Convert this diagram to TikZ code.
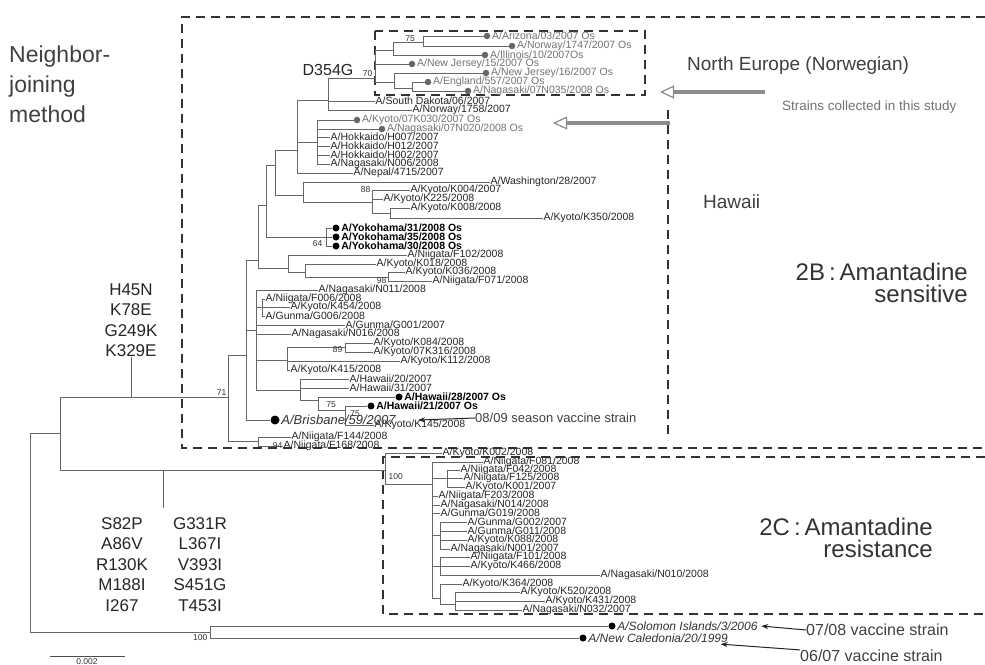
\documentclass[tikz,border=0pt]{standalone}
\usepackage{fontspec}
\setmainfont{Liberation Sans}
\usetikzlibrary{arrows.meta}
\tikzset{
 br/.style={draw=black!60, line width=0.7pt},
 lf/.style={anchor=west, inner sep=0.5pt, font=\fontsize{10.5}{11}\selectfont, text=black!85},
 os/.style={font=\fontsize{10.5}{11}\selectfont\bfseries, text=black},
 ne/.style={text=black!55},
 bri/.style={font=\fontsize{13}{14}\selectfont\itshape, text=black!80},
 vac/.style={font=\fontsize{12}{13}\selectfont\itshape, text=black!80},
 dotc/.style={circle, fill=black, inner sep=0pt, minimum size=7pt},
 bs/.style={font=\fontsize{8.5}{9}\selectfont, inner sep=0.5pt, text=black!80},
 dbox/.style={draw=black!80, line width=1.8pt, dash pattern=on 9pt off 6pt},
 big/.style={font=\fontsize{24}{22}\selectfont, text=black!80, inner sep=0},
 mut/.style={font=\fontsize{17}{20.5}\selectfont, align=center, inner sep=0, text=black!85},
 side/.style={inner sep=0, text=black!75},
 fatarrow/.style={draw=black!45, line width=4pt, -{Triangle[open,length=14pt,width=13pt,line width=1.2pt]}},
 thinarrow/.style={draw=black!85, line width=1pt, -{Stealth[length=7pt,width=5pt]}},
}
\newcommand\Lf[6][]{\node[lf,#1] (#2) at (#4,#5) {#6}; \draw[br] (#3) |- (#2.west);}
\newcommand\Df[6][]{\node[dotc] (#2d) at (#4,#5) {}; \node[lf,#1] (#2) at ([xshift=1pt]#2d.east) {#6}; \draw[br] (#3) |- (#2d.west);}
\newcommand\Gf[6][]{\node[dotc, fill=black!60, minimum size=6.5pt] (#2d) at (#4,#5) {}; \node[lf,#1] (#2) at ([xshift=1pt]#2d.east) {#6}; \draw[br] (#3) |- (#2d.west);}
\begin{document}
\begin{tikzpicture}[x=1pt,y=-1pt]
\useasboundingbox (0,0) rectangle (985,664);
\fill[white] (0,0) rectangle (985,664);

% internal nodes
\coordinate (R) at (30,540);
\coordinate (A) at (60,433);
\coordinate (O) at (210,632);
\coordinate (B) at (228,397);
\coordinate (D) at (258,441);
\coordinate (C) at (246,355);
\coordinate (E) at (258,260);
\coordinate (F) at (256,330);
\coordinate (M1) at (266,205);
\coordinate (UP) at (275,165);
\coordinate (X) at (297,150);
\coordinate (Y) at (328,100);
\coordinate (NE) at (375,78);
\coordinate (NA) at (393,50);
\coordinate (N75) at (423,42);
\coordinate (NB) at (394,82);
\coordinate (NC) at (412,88);
\coordinate (K) at (317,142);
\coordinate (W) at (303,195);
\coordinate (N88) at (372,202);
\coordinate (NK8) at (390,213);
\coordinate (YOK) at (326,237);
\coordinate (NI) at (288,268);
\coordinate (NI2) at (305,272);
\coordinate (NI3) at (388,277);
\coordinate (GG) at (262,307);
\coordinate (N89) at (287,360);
\coordinate (N89b) at (345,347);
\coordinate (HW) at (300,390);
\coordinate (H75) at (318,400);
\coordinate (H75b) at (345,410);
\coordinate (c1) at (385,470);
\coordinate (c2) at (432,484);
\coordinate (c3) at (447,478);
\coordinate (c4) at (440,535);
\coordinate (c5) at (440,566);
\coordinate (c6) at (440,598);
\coordinate (c7) at (455,604);

% dashed frames
\draw[dbox] (985,17) -- (182,17) -- (182,448) -- (985,448);
\draw[dbox] (985,457) -- (383,457) -- (383,614) -- (985,614);
\draw[dbox] (375,31) rectangle (645,95);
\draw[dbox] (668,110) -- (668,440);

% internal branches
\draw[br] (R) |- (A); \draw[br] (R) |- (O);
\draw[br] (A) |- (B); \draw[br] (A) |- (c1);
\draw[br] (B) |- (C); \draw[br] (B) |- (D);
\draw[br] (C) |- (E); \draw[br] (C) |- (F);
\draw[br] (E) |- (M1); \draw[br] (E) |- (NI);
\draw[br] (M1) |- (UP); \draw[br] (M1) |- (YOK);
\draw[br] (UP) |- (X); \draw[br] (UP) |- (W);
\draw[br] (X) |- (Y); \draw[br] (X) |- (K);
\draw[br] (Y) |- (NE);
\draw[br] (NE) |- (NA); \draw[br] (NE) |- (NB);
\draw[br] (NA) |- (N75);
\draw[br] (NB) |- (NC);
\draw[br] (W) |- (N88); \draw[br] (N88) |- (NK8);
\draw[br] (NI) |- (NI2); \draw[br] (NI2) |- (NI3);
\draw[br] (F) |- (GG); \draw[br] (F) |- (N89); \draw[br] (F) |- (HW);
\draw[br] (N89) |- (N89b);
\draw[br] (HW) |- (H75); \draw[br] (H75) |- (H75b);
\draw[br] (c1) |- (c2); \draw[br] (c2) |- (c3); \draw[br] (c2) |- (c4);
\draw[br] (c2) |- (c5); \draw[br] (c2) |- (c6); \draw[br] (c6) |- (c7);

% leaves 2B
\Gf[ne]{Az}{N75}{487}{36}{A/Arizona/03/2007 Os}
\Gf[ne]{Nw47}{N75}{512}{46}{A/Norway/1747/2007 Os}
\Gf[ne]{Il}{NA}{485}{55}{A/Illinois/10/2007Os}
\Gf[ne]{NJa}{NE}{412}{64}{A/New Jersey/15/2007 Os}
\Gf[ne]{NJb}{NB}{486}{73}{A/New Jersey/16/2007 Os}
\Gf[ne]{En}{NC}{428}{82}{A/England/557/2007 Os}
\Gf[ne]{Ng35}{NC}{468}{91}{A/Nagasaki/07N035/2008 Os}
\Lf{SD}{Y}{375}{101}{A/South Dakota/06/2007}
\Lf{Nw58}{Y}{412}{110}{A/Norway/1758/2007}
\Gf[ne]{Ky30}{K}{357}{120}{A/Kyoto/07K030/2007 Os}
\Gf[ne]{Ng20}{K}{382}{129}{A/Nagasaki/07N020/2008 Os}
\Lf{Hk7}{K}{330}{137}{A/Hokkaido/H007/2007}
\Lf{Hk12}{K}{330}{146}{A/Hokkaido/H012/2007}
\Lf{Hk2}{K}{330}{155}{A/Hokkaido/H002/2007}
\Lf{Ng6}{K}{330}{164}{A/Nagasaki/N006/2008}
\Lf{Np}{X}{353}{173}{A/Nepal/4715/2007}
\Lf{Wa}{W}{490}{182}{A/Washington/28/2007}
\Lf{K4}{N88}{410}{190}{A/Kyoto/K004/2007}
\Lf{K225}{N88}{383}{199}{A/Kyoto/K225/2008}
\Lf{K8}{NK8}{410}{208}{A/Kyoto/K008/2008}
\Lf{K350}{NK8}{543}{218}{A/Kyoto/K350/2008}
\Df[os]{Yo31}{YOK}{336}{228}{A/Yokohama/31/2008 Os}
\Df[os]{Yo35}{YOK}{336}{237}{A/Yokohama/35/2008 Os}
\Df[os]{Yo30}{YOK}{336}{246}{A/Yokohama/30/2008 Os}
\Lf{F102}{NI}{407}{255}{A/Niigata/F102/2008}
\Lf{K18}{NI2}{376}{264}{A/Kyoto/K018/2008}
\Lf{K36}{NI3}{405}{272}{A/Kyoto/K036/2008}
\Lf{F71}{NI3}{432}{281}{A/Niigata/F071/2008}
\Lf{N11}{F}{318}{290}{A/Nagasaki/N011/2008}
\Lf{F6}{GG}{265}{299}{A/Niigata/F006/2008}
\Lf{K454}{GG}{290}{307}{A/Kyoto/K454/2008}
\Lf{G6}{GG}{265}{316}{A/Gunma/G006/2008}
\Lf{G1}{F}{345}{325}{A/Gunma/G001/2007}
\Lf{N16}{F}{291}{334}{A/Nagasaki/N016/2008}
\Lf{K84}{N89b}{373}{343}{A/Kyoto/K084/2008}
\Lf{K316}{N89b}{373}{352}{A/Kyoto/07K316/2008}
\Lf{K112}{N89}{400}{361}{A/Kyoto/K112/2008}
\Lf{K415}{N89}{290}{370}{A/Kyoto/K415/2008}
\Lf{Hw20}{HW}{349}{379}{A/Hawaii/20/2007}
\Lf{Hw31}{HW}{349}{388}{A/Hawaii/31/2007}
\Df[os]{Hw28}{H75}{399}{397}{A/Hawaii/28/2007 Os}
\Df[os]{Hw21}{H75b}{371}{406}{A/Hawaii/21/2007 Os}
\Lf{K145}{H75b}{374}{425}{A/Kyoto/K145/2008}
\node[dotc, minimum size=9pt] (Brid) at (275,420) {};
\node[lf,bri] (Bri) at ([xshift=1pt]Brid.east) {A/Brisbane/59/2007};
\draw[br] (C) |- (Brid.west);
\Lf{F144}{D}{291}{437}{A/Niigata/F144/2008}
\Lf{F168}{D}{283}{446}{A/Niigata/F168/2008}

% leaves 2C
\Lf{Kt}{c1}{442}{453}{A/Kyoto/K002/2008}
\Lf{F81}{c2}{483}{462}{A/Niigata/F081/2008}
\Lf{F42}{c3}{460}{470}{A/Niigata/F042/2008}
\Lf{F125}{c3}{463}{478}{A/Niigata/F125/2008}
\Lf{K1}{c3}{465}{487}{A/Kyoto/K001/2007}
\Lf{F203}{c2}{438}{496}{A/Niigata/F203/2008}
\Lf{N14}{c2}{440}{505}{A/Nagasaki/N014/2008}
\Lf{G19}{c2}{440}{513}{A/Gunma/G019/2008}
\Lf{G2}{c4}{467}{522}{A/Gunma/G002/2007}
\Lf{G11}{c4}{467}{531}{A/Gunma/G011/2008}
\Lf{K88}{c4}{467}{540}{A/Kyoto/K088/2008}
\Lf{N1}{c4}{450}{549}{A/Nagasaki/N001/2007}
\Lf{F101}{c5}{470}{557}{A/Niigata/F101/2008}
\Lf{K466}{c5}{470}{566}{A/Kyoto/K466/2008}
\Lf{N10}{c5}{600}{575}{A/Nagasaki/N010/2008}
\Lf{K364}{c6}{462}{584}{A/Kyoto/K364/2008}
\Lf{K520}{c7}{520}{592}{A/Kyoto/K520/2008}
\Lf{K431}{c7}{545}{601}{A/Kyoto/K431/2008}
\Lf{N32}{c7}{522}{610}{A/Nagasaki/N032/2007}

% outgroup
\Df[vac]{Sol}{O}{612}{626}{A/Solomon Islands/3/2006}
\Df[vac]{NCa}{O}{583}{638}{A/New Caledonia/20/1999}

% bootstrap values
\node[bs, anchor=south east] at (227,396) {71};
\node[bs, anchor=south] at (410,42) {75};
\node[bs, anchor=south east] at (373,77) {70};
\node[bs, anchor=east] at (371,190) {88};
\node[bs, anchor=east] at (323,244) {64};
\node[bs, anchor=east] at (387,281) {98};
\node[bs, anchor=east] at (343,350) {89};
\node[bs] at (331,405) {75};
\node[bs] at (355,414) {75};
\node[bs, anchor=east] at (283,446) {94};
\node[bs, anchor=west] at (388,477) {100};
\node[bs, anchor=north east] at (208,634) {100};

% mutations
\node[font=\fontsize{16}{18}\selectfont, inner sep=0, text=black!85] (dg) at (328,70) {D354G};
\node[mut, anchor=south] (mA) at (131,357) {H45N\\K78E\\G249K\\K329E};
\draw[br] (mA.south) -- (mA.south |- B);
\coordinate (mT) at (163,508);
\draw[br] (mT) -- (mT |- c1);
\node[mut, anchor=north] (mL) at (122,517) {S82P\\A86V\\R130K\\M188I\\I267};
\node[mut, anchor=north] (mR) at (200,517) {G331R\\L367I\\V393I\\S451G\\T453I};

% side labels
\node[side, anchor=north west, align=left, font=\fontsize{23}{30}\selectfont] (nj) at (9,46) {Neighbor-\\joining\\method};
\node[side, anchor=west, font=\fontsize{19}{20}\selectfont] (neu) at (687,66) {North Europe (Norwegian)};
\node[side, anchor=west, font=\fontsize{13.5}{14}\selectfont, text=black!55] (sc) at (782,107) {Strains collected in this study};
\node[side, anchor=west, font=\fontsize{19}{20}\selectfont] (hw) at (703,202) {Hawaii};
\node[big, anchor=east] (b2a) at (968,272) {2B\,:\,Amantadine};
\node[big, anchor=east] (b2b) at (968,294) {sensitive};
\node[big, anchor=east] (c2a) at (933,527) {2C\,:\,Amantadine};
\node[big, anchor=east] (c2b) at (933,549) {resistance};

% arrows
\coordinate (ar1s) at (765,92); \coordinate (ar1e) at (660,92);
\draw[fatarrow] (ar1s) -- (ar1e);
\coordinate (ar2s) at (670,123); \coordinate (ar2e) at (553,123);
\draw[fatarrow] (ar2s) -- (ar2e);
\node[side, anchor=west, font=\fontsize{13}{14}\selectfont] (v89) at (475,418) {08/09 season vaccine strain};
\draw[thinarrow] (v89.west) -- (Bri.east -| 418,0);
\node[side, anchor=west, font=\fontsize{16}{17}\selectfont] (v78) at (806,630) {07/08 vaccine strain};
\draw[thinarrow] (v78.west) -- ([xshift=3pt]Sol.east);
\node[side, anchor=west, font=\fontsize{16}{17}\selectfont] (v67) at (800,656) {06/07 vaccine strain};
\draw[thinarrow] (v67.north west) -- ([xshift=-8pt,yshift=-1pt]NCa.south east);

% scale bar
\coordinate (sb1) at (50,656); \coordinate (sb2) at (125,656);
\draw[draw=black!70, line width=0.8pt] (sb1) -- (sb2);
\node[bs, anchor=north] at (87,658) {0.002};
\end{tikzpicture}
\end{document}
